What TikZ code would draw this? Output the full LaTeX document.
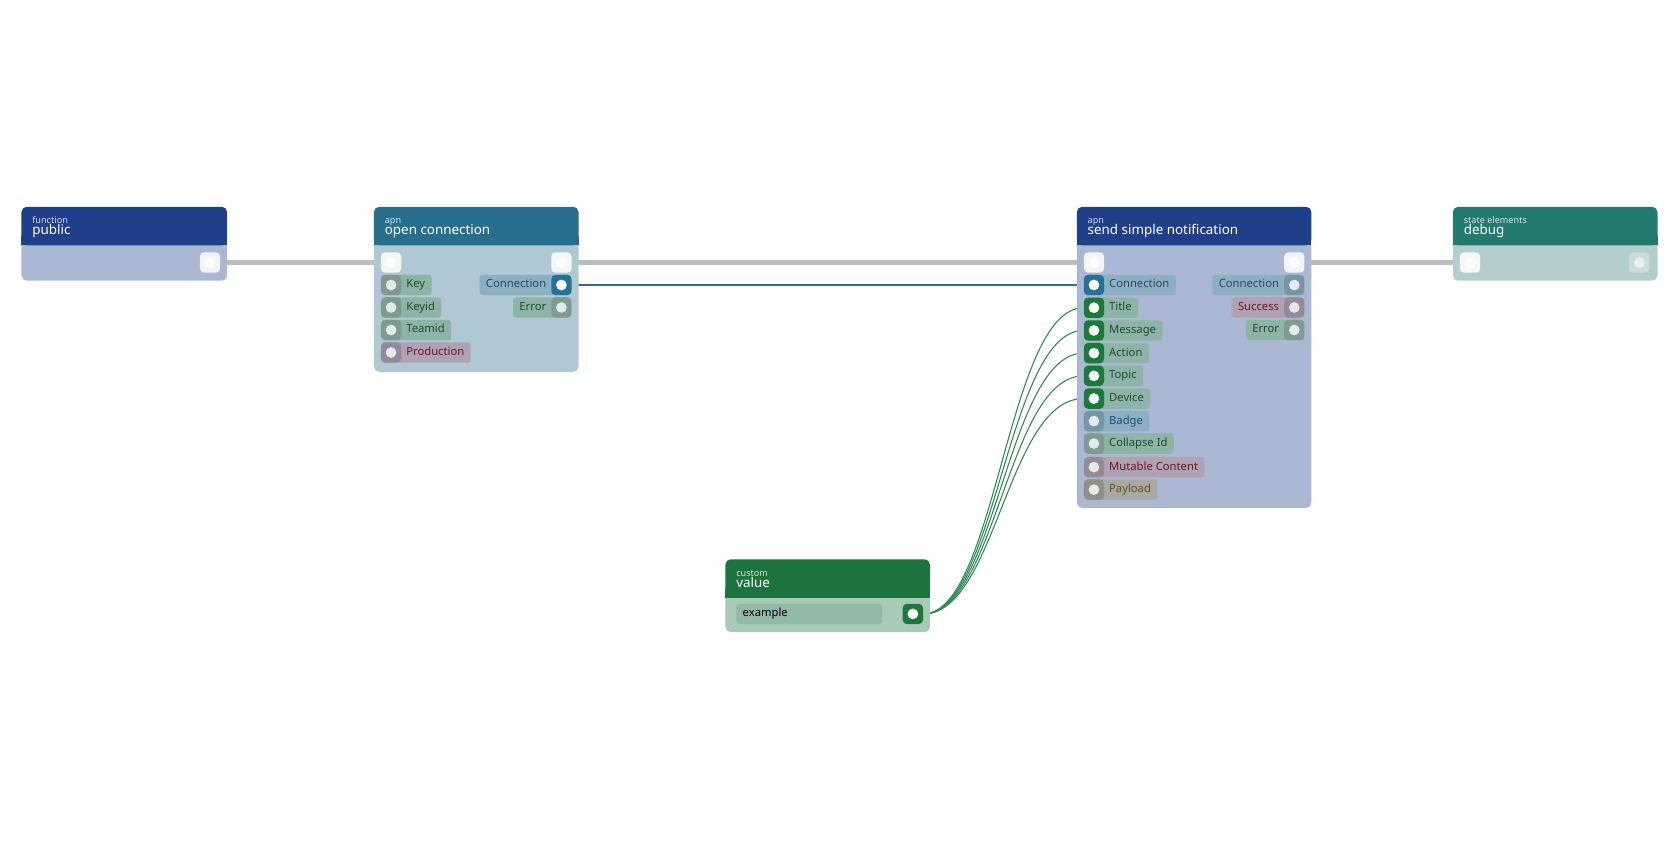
\documentclass[tikz,border=0pt]{standalone}
\usepackage{fontspec}
\setmainfont{Noto Sans}
\usetikzlibrary{positioning,backgrounds}
\definecolor{hblue}{HTML}{1F3F8A}\definecolor{bblue}{HTML}{ABB8D3}
\definecolor{hteal}{HTML}{276F8C}\definecolor{bteal}{HTML}{B0C8D3}
\definecolor{hsea}{HTML}{237A6E}\definecolor{bsea}{HTML}{B3CECC}
\definecolor{hgreen}{HTML}{1D733D}\definecolor{bgreen}{HTML}{A9CBB5}
\definecolor{pgreen}{HTML}{8DB4A6}\definecolor{tgreen}{HTML}{1E4D2E}
\definecolor{pred}{HTML}{AFA2B2}\definecolor{tred}{HTML}{6A1A24}
\definecolor{pconn}{HTML}{8CB0C2}\definecolor{tconn}{HTML}{1F4D6A}
\definecolor{pgold}{HTML}{A8A9A2}\definecolor{tgold}{HTML}{6B4E1A}
\definecolor{wire}{HTML}{2E8A55}\definecolor{flow}{HTML}{BDBDBD}
\definecolor{cport}{HTML}{23729A}\definecolor{gport}{HTML}{1A7A3A}
\tikzset{
  pill/.style={rounded corners=3pt,minimum height=19pt,inner ysep=0pt,inner xsep=6pt,
    text height=8pt,text depth=2.5pt,font=\fontsize{10.5}{12}\selectfont},
  port/.style={rounded corners=4pt,minimum size=19pt,inner sep=0pt},
}
% name, x, y, label, pill, text, port, dot
\newcommand\inpin[8]{%
  \node[pill,fill=#5,text=#6,anchor=west] at (#2-9,#3) {\hspace*{17pt}#4};
  \node[port,fill=#7] (#1) at (#2,#3) {};
  \fill[#8] (#1) circle (5pt);}
\newcommand\outpin[8]{%
  \node[pill,fill=#5,text=#6,anchor=east] at (#2+9,#3) {#4\hspace*{17pt}};
  \node[port,fill=#7] (#1) at (#2,#3) {};
  \fill[#8] (#1) circle (5pt);}
% name, x1, x2, y2, header, body, small, title
\newcommand\block[8]{%
  \fill[#6,rounded corners=5pt] (#2,224) rectangle (#3,#4);
  \fill[#5,rounded corners=5pt] (#2,193) rectangle (#3,229);
  \fill[#5] (#2,220) rectangle (#3,229);
  \node[anchor=base west,inner sep=0pt,text=white!80!#5,font=\fontsize{8.5}{9}\selectfont] at (#2+10,209) {#7};
  \node[anchor=base west,inner sep=0pt,text=white,font=\fontsize{12.5}{13}\selectfont] (#1) at (#2+10,219) {#8};}
\begin{document}
\begin{tikzpicture}[x=1pt,y=-1pt]
  \useasboundingbox (0,0) rectangle (1568,784);

  % blocks
  \block{public}{20}{212}{262}{hblue}{bblue}{function}{public}
  \block{open}{349}{540}{347}{hteal}{bteal}{apn}{open connection}
  \block{send}{1005}{1224}{474}{hblue}{bblue}{apn}{send simple notification}
  \block{debug}{1356}{1547}{262}{hsea}{bsea}{state elements}{debug}
  \begin{scope}[yshift=-329pt]
    \fill[bgreen,rounded corners=5pt] (677,224) rectangle (868,261);
    \fill[hgreen,rounded corners=5pt] (677,193) rectangle (868,229);
    \fill[hgreen] (677,220) rectangle (868,229);
    \node[anchor=base west,inner sep=0pt,text=white!80!hgreen,font=\fontsize{8.5}{9}\selectfont] at (687,209) {custom};
    \node[anchor=base west,inner sep=0pt,text=white,font=\fontsize{12.5}{13}\selectfont] (value) at (687,219) {value};
  \end{scope}
  \node[pill,fill=pgreen!80!bgreen,text=black,anchor=west,minimum width=136pt,text width=124pt] (field) at (687,573) {example};

  % flow ports
  \node[port,fill=white!85!bblue] (pubout) at (196,245) {}; \fill[white] (pubout) circle (5pt);
  \node[port,fill=white!85!bteal] (openin) at (365,245) {}; \fill[white] (openin) circle (5pt);
  \node[port,fill=white!85!bteal] (openout) at (524,245) {}; \fill[white] (openout) circle (5pt);
  \node[port,fill=white!85!bblue] (sendin) at (1021,245) {}; \fill[white] (sendin) circle (5pt);
  \node[port,fill=white!85!bblue] (sendout) at (1208,245) {}; \fill[white] (sendout) circle (5pt);
  \node[port,fill=white!85!bsea] (dbgin) at (1372,245) {}; \fill[white] (dbgin) circle (5pt);
  \node[port,fill=white!30!bsea] (dbgout) at (1530,245) {}; \fill[white!70!bsea] (dbgout) circle (5pt);
  \node[port,fill=gport] (vout) at (852,573) {}; \fill[white] (vout) circle (5pt);

  % open connection pins
  \inpin{key}{365}{266}{Key}{pgreen}{tgreen}{pgreen!80!black!90}{white!75!pgreen}
  \inpin{keyid}{365}{287}{Keyid}{pgreen}{tgreen}{pgreen!80!black!90}{white!75!pgreen}
  \inpin{teamid}{365}{308}{Teamid}{pgreen}{tgreen}{pgreen!80!black!90}{white!75!pgreen}
  \inpin{prod}{365}{329}{Production}{pred}{tred}{pred!85!black}{white!75!pred}
  \outpin{oconn}{524}{266}{Connection}{pconn}{tconn}{cport}{white}
  \outpin{oerr}{524}{287}{Error}{pgreen}{tgreen}{pgreen!80!black!90}{white!75!pgreen}

  % send simple notification pins
  \inpin{sconn}{1021}{266}{Connection}{pconn}{tconn}{cport}{white}
  \foreach \n/\t [count=\i] in {title/Title,msg/Message,action/Action,topic/Topic,device/Device}
    {\inpin{\n}{1021}{266+21.2*\i}{\t}{pgreen}{tgreen}{gport}{white}}
  \inpin{badge}{1021}{393}{Badge}{pconn}{tconn}{pconn!85!black}{white!75!pconn}
  \inpin{collapse}{1021}{414}{Collapse Id}{pgreen}{tgreen}{pgreen!80!black!90}{white!75!pgreen}
  \inpin{mutable}{1021}{436}{Mutable Content}{pred}{tred}{pred!85!black}{white!75!pred}
  \inpin{payload}{1021}{457}{Payload}{pgold}{tgold}{pgold!85!black}{white!75!pgold}
  \outpin{rconn}{1208}{266}{Connection}{pconn}{tconn}{pconn!85!black}{white!75!pconn}
  \outpin{rsucc}{1208}{287}{Success}{pred}{tred}{pred!85!black}{white!75!pred}
  \outpin{rerr}{1208}{308}{Error}{pgreen}{tgreen}{pgreen!80!black!90}{white!75!pgreen}

  % connectors
  \begin{scope}[on background layer]
    \draw[flow,line width=4pt] (pubout) -- (openin);
    \draw[flow,line width=4pt] (openout) -- (sendin);
    \draw[flow,line width=4pt] (sendout) -- (dbgin);
    \draw[cport,line width=1pt] (oconn) -- (sconn);
    \foreach \n in {title,msg,action,topic,device}
      \draw[wire,line width=1pt] (vout.east) .. controls (930,573) and (940,0 |- \n) .. (\n.west);
  \end{scope}
\end{tikzpicture}
\end{document}
